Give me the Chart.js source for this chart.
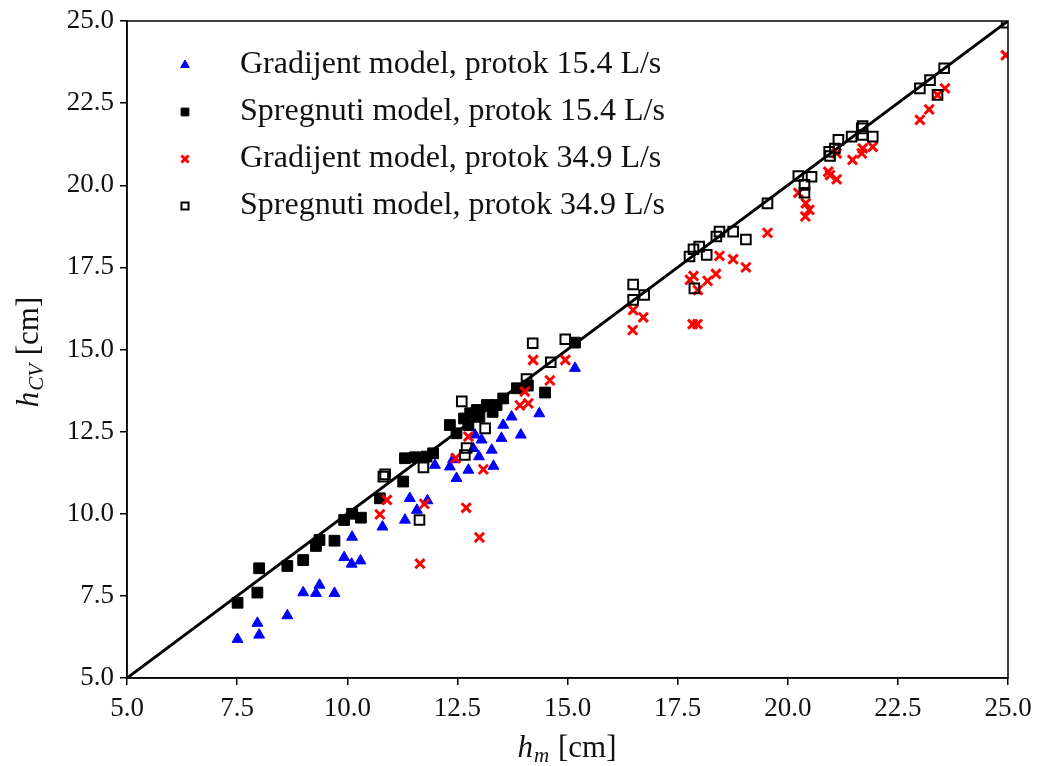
<!DOCTYPE html>
<html>
<head>
<meta charset="utf-8">
<script src="https://cdn.jsdelivr.net/npm/chart.js@4.4.1/dist/chart.umd.min.js"></script>
<style>
html,body{margin:0;padding:0;background:#fff;}
#wrap{width:1037px;height:766px;position:relative;}
</style>
</head>
<body>
<div id="wrap"><canvas id="c" width="1037" height="766"></canvas></div>
<script>
// ---- data ----
const seriesLabels = [
  "Gradijent model, protok 15.4 L/s",
  "Spregnuti model, protok 15.4 L/s",
  "Gradijent model, protok 34.9 L/s",
  "Spregnuti model, protok 34.9 L/s"
];
const tickValues = [5.0, 7.5, 10.0, 12.5, 15.0, 17.5, 20.0, 22.5, 25.0];
const xTitle = ["h", "m", " [cm]"];
const yTitle = ["h", "CV", " [cm]"];
const gradijent154 = [
  [7.51,6.18],[7.96,6.67],[8.0,6.31],[8.64,6.9],[9.0,7.6],[9.29,7.58],[9.37,7.83],[9.71,7.58],
  [9.93,8.67],[10.1,8.47],[10.11,9.29],[10.3,8.57],[10.8,9.6],[11.31,9.81],[11.42,10.47],
  [11.58,10.11],[11.82,10.4],[11.99,11.48],[12.33,11.43],[12.4,11.65],[12.48,11.08],[12.75,11.33],
  [12.86,11.99],[12.9,12.4],[12.99,11.74],[13.05,12.25],[13.28,11.94],[13.32,11.45],[13.5,12.3],
  [13.54,12.7],[13.73,12.95],[13.94,12.4],[14.36,13.05],[14.5,13.65],[15.17,14.43]
];
const spregnuti154 = [
  [7.51,7.29],[7.96,7.6],[8.0,8.34],[8.64,8.41],[9.0,8.59],[9.29,9.02],[9.37,9.2],[9.71,9.18],
  [9.93,9.81],[10.11,10.0],[10.31,9.88],[10.74,10.47],[11.27,10.98],[11.31,11.69],[11.54,11.72],
  [11.8,11.74],[11.95,11.84],[12.33,12.7],[12.48,12.45],[12.65,12.9],[12.75,12.7],[12.79,13.06],
  [12.94,13.16],[13.0,12.95],[13.17,13.31],[13.3,13.1],[13.39,13.31],[13.54,13.51],[13.85,13.82],
  [14.1,13.9],[14.49,13.69],[15.17,15.21]
];
const gradijent349 = [
  [10.74,9.98],[10.9,10.42],[11.65,8.48],[11.75,10.3],[12.46,11.69],[12.7,10.18],[12.75,12.35],
  [13.0,9.28],[13.09,11.35],[13.92,13.3],[14.11,13.36],[14.03,13.72],[14.22,14.68],[14.6,14.06],
  [14.95,14.68],[16.48,15.59],[16.49,16.2],[16.72,15.98],[17.78,17.12],[17.86,17.24],[17.84,15.77],
  [17.95,15.77],[17.96,16.81],[18.18,17.09],[18.37,17.3],[18.45,17.85],[18.76,17.75],[19.05,17.5],
  [19.54,18.55],[20.24,19.77],[20.4,19.05],[20.49,19.25],[20.41,19.45],[20.92,20.41],[20.96,20.31],
  [21.11,20.18],[21.11,20.97],[21.47,20.77],[21.68,20.97],[21.7,21.12],[21.93,21.17],[23.0,21.99],
  [23.21,22.31],[23.4,22.75],[23.57,22.95],[24.95,23.96]
];
const spregnuti349 = [
  [10.82,11.13],[10.86,11.2],[11.64,9.81],[11.73,11.41],[12.6,13.42],[12.67,11.79],[12.71,12.0],
  [13.13,12.6],[14.07,14.1],[14.21,15.19],[14.62,14.61],[14.95,15.31],[16.49,16.98],[16.49,16.51],
  [16.74,16.66],[17.77,17.83],[17.86,18.05],[17.88,16.86],[17.99,18.13],[18.16,17.88],[18.38,18.44],
  [18.45,18.59],[18.76,18.59],[19.05,18.35],[19.54,19.45],[20.24,20.28],[20.38,20.01],[20.38,19.77],
  [20.54,20.26],[20.94,21.02],[20.96,20.89],[21.07,21.12],[21.15,21.38],[21.45,21.48],[21.68,21.73],
  [21.7,21.8],[21.7,21.53],[21.93,21.48],[23.0,22.95],[23.23,23.2],[23.4,22.75],[23.55,23.56],[24.97,24.95]
];
const identityLine = [[5,5],[25,25]];

const toPts = a => a.map(p => ({x:p[0], y:p[1]}));
const SERIF = "'Liberation Serif', 'DejaVu Serif', serif";

const datasets = [
  {label: seriesLabels[0], data: toPts(gradijent154), pointStyle:'triangle', pointRadius:6.3,
   backgroundColor:'#0000ff', borderColor:'#0000ff', borderWidth:1, order:4, legendRadius:5},
  {label: seriesLabels[1], data: toPts(spregnuti154), pointStyle:'rect', pointRadius:7.6,
   backgroundColor:'#000000', borderColor:'#000000', borderWidth:1, order:3, legendRadius:5.5},
  {label: seriesLabels[2], data: toPts(gradijent349), pointStyle:'crossRot', pointRadius:6.5,
   backgroundColor:'#ff0000', borderColor:'#ff0000', borderWidth:3, order:2, legendRadius:5},
  {label: seriesLabels[3], data: toPts(spregnuti349), pointStyle:'rect', pointRadius:6.8,
   backgroundColor:'rgba(0,0,0,0)', borderColor:'#000000', borderWidth:2, order:1, legendRadius:5},
  {label: 'line', data: toPts(identityLine), type:'line', showLine:true, pointRadius:0,
   borderColor:'#000', borderWidth:3, order:5, isLine:true}
];

const decor = {
  id:'decor',
  afterDatasetsDraw(chart){
    const ctx = chart.ctx, a = chart.chartArea;
    ctx.save();
    ctx.strokeStyle = '#000'; ctx.lineWidth = 1.5;
    ctx.strokeRect(a.left, a.top, a.right - a.left, a.bottom - a.top);
    // legend
    const lx = 185, ty = 65, dy = 47, tx = 240;
    chart.data.datasets.forEach((ds, i) => {
      if (ds.isLine) return;
      const y = ty + i*dy;
      ctx.fillStyle = ds.backgroundColor; ctx.strokeStyle = ds.borderColor;
      ctx.lineWidth = ds.borderWidth;
      Chart.helpers.drawPoint(ctx, {pointStyle: ds.pointStyle, radius: ds.legendRadius, rotation:0, borderWidth: ds.borderWidth}, lx, y);
      ctx.fillStyle = '#111';
      ctx.font = "32px " + SERIF;
      ctx.textBaseline = 'middle'; ctx.textAlign = 'left';
      ctx.fillText(ds.label, tx, y);
    });
    // axis titles
    function drawTitle(parts, cx, cy, rot){
      ctx.save();
      ctx.translate(cx, cy); ctx.rotate(rot);
      ctx.textBaseline = 'alphabetic'; ctx.textAlign = 'left'; ctx.fillStyle = '#111';
      const f1 = "italic 31px " + SERIF, f2 = "italic 21px " + SERIF, f3 = "31px " + SERIF;
      ctx.font = f1; const w1 = ctx.measureText(parts[0]).width;
      ctx.font = f2; const w2 = ctx.measureText(parts[1]).width;
      ctx.font = f3; const w3 = ctx.measureText(parts[2]).width;
      let x = -(w1 + w2 + w3 + 2)/2;
      ctx.font = f1; ctx.fillText(parts[0], x, 10); x += w1 + 1;
      ctx.font = f2; ctx.fillText(parts[1], x, 15); x += w2 + 1;
      ctx.font = f3; ctx.fillText(parts[2], x, 10);
      ctx.restore();
    }
    drawTitle(xTitle, 567, 747, 0);
    drawTitle(yTitle, 28, 352, -Math.PI/2);
    ctx.restore();
  }
};

const tickFont = {family: SERIF, size: 27};
new Chart(document.getElementById('c'), {
  type: 'scatter',
  data: {datasets},
  options: {
    responsive:false, animation:false,
    layout:{padding:{top:21, right:29, left:0, bottom:0}},
    plugins:{legend:{display:false}, tooltip:{enabled:false}},
    scales:{
      x:{type:'linear', min:5, max:25,
        afterBuildTicks(s){ s.ticks = tickValues.map(v => ({value:v})); },
        afterFit(s){ s.height = 88; s.paddingLeft = 0; s.paddingRight = 0; },
        ticks:{color:'#111', font:tickFont, padding:8, callback:v => Number(v).toFixed(1), maxRotation:0, autoSkip:false},
        grid:{drawOnChartArea:false, drawTicks:true, tickLength:7, color:'#000', lineWidth:1.5},
        border:{color:'#000', width:1.5}
      },
      y:{type:'linear', min:5, max:25,
        afterBuildTicks(s){ s.ticks = tickValues.map(v => ({value:v})); },
        afterFit(s){ s.width = 127; s.paddingTop = 0; s.paddingBottom = 0; },
        ticks:{color:'#111', font:tickFont, padding:6, callback:v => Number(v).toFixed(1), autoSkip:false},
        grid:{drawOnChartArea:false, drawTicks:true, tickLength:7, color:'#000', lineWidth:1.5},
        border:{color:'#000', width:1.5}
      }
    }
  },
  plugins:[decor]
});
</script>
</body>
</html>
